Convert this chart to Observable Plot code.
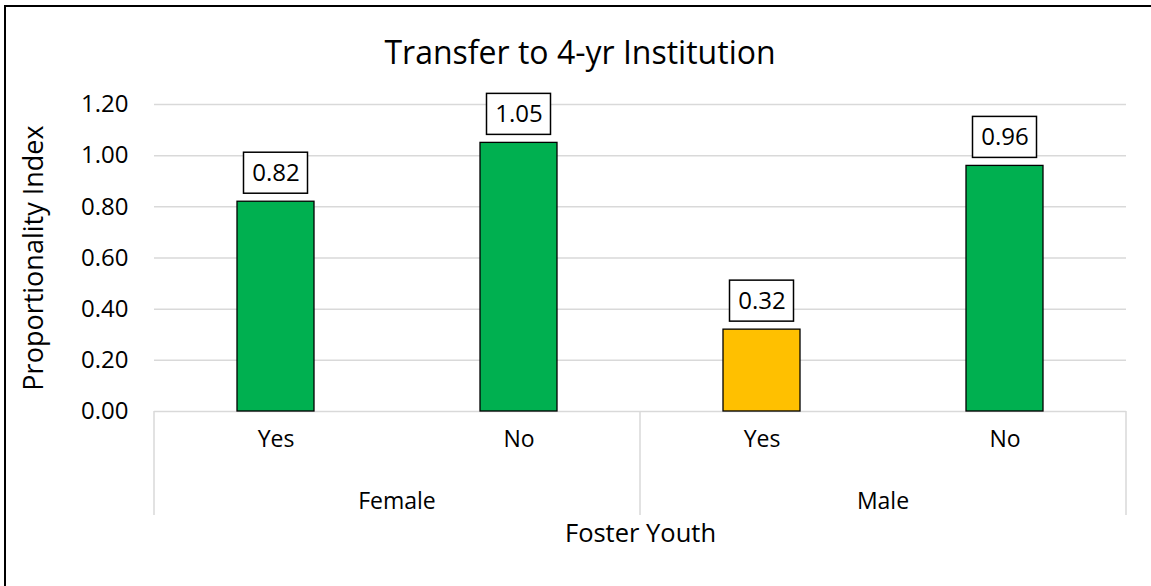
<!DOCTYPE html>
<html>
<head>
<meta charset="utf-8">
<script src="https://cdn.jsdelivr.net/npm/d3@7"></script>
<script src="https://cdn.jsdelivr.net/npm/@observablehq/plot@0.6"></script>
<style>
  html, body { margin: 0; padding: 0; background: #fff; overflow: hidden; }
  #frame { position: absolute; left: 4px; top: 5px; width: 1200px; height: 700px; border: 2px solid #000; box-sizing: border-box; }
  #title { position: absolute; left: 0; top: 35px; width: 1160px; height: 34px; line-height: 34px; text-align: center;
           font-family: "Open Sans", sans-serif; font-size: 32px; color: #000; }
  #chart { position: absolute; left: 0; top: 85px; }
</style>
</head>
<body>
<div id="frame"></div>
<div id="title"></div>
<div id="chart"></div>
<script>
// ---- data ----
const titleText = "Transfer to 4-yr Institution";
const yLabel = "Proportionality Index";
const xLabel = "Foster Youth";
const groups = ["Female", "Male"];
const fosterCats = ["Yes", "No"];
const femaleValues = [0.82, 1.05];
const maleValues = [0.32, 0.96];
const barFills = ["#00B050", "#00B050", "#FFC000", "#00B050"];
const yTicks = [0, 0.2, 0.4, 0.6, 0.8, 1.0, 1.2];

const seriesByGroup = [femaleValues, maleValues];
const rows = groups.flatMap((g, gi) => fosterCats.map((f, fi) => ({
  group: g, foster: f, key: g + "|" + f, value: seriesByGroup[gi][fi]
})));
rows.forEach((r, i) => r.fill = barFills[i]);
const keys = rows.map(r => r.key);

document.getElementById("title").textContent = titleText;

// separators + group labels drawn from the x band scale
function groupDecor(index, scales, values, dims) {
  const sx = scales.x;
  const bw = typeof sx.bandwidth === "function" ? sx.bandwidth() : scales.scales.x.bandwidth;
  const step = typeof sx.step === "function" ? sx.step() : scales.scales.x.step;
  const gap = (step - bw) / 2;
  const y0 = dims.height - dims.marginBottom;
  const g = d3.create("svg:g");
  const edges = [];
  groups.forEach((grp, i) => {
    const left = sx(grp + "|" + fosterCats[0]) - gap;
    const right = sx(grp + "|" + fosterCats[fosterCats.length - 1]) + bw + gap;
    if (i === 0) edges.push(left);
    edges.push(right);
    g.append("text")
      .attr("x", (left + right) / 2)
      .attr("y", y0 + 90)
      .attr("dy", "0.35em")
      .attr("text-anchor", "middle")
      .attr("font-size", 23)
      .attr("fill", "#000")
      .text(grp);
  });
  edges.forEach(x => {
    g.append("line")
      .attr("x1", x).attr("x2", x)
      .attr("y1", y0).attr("y2", y0 + 104)
      .attr("stroke", "#d9d9d9").attr("stroke-width", 1.5);
  });
  return g.node();
}

const chart = Plot.plot({
  width: 1151,
  height: 501,
  marginTop: 19,
  marginBottom: 175,
  marginLeft: 154,
  marginRight: 25,
  style: { fontFamily: "Open Sans, sans-serif", fontSize: "23px", color: "#000", background: "transparent", overflow: "visible" },
  x: { domain: keys, paddingInner: 0.6825, paddingOuter: 0.341, axis: null },
  y: { domain: [0, 1.2], axis: null },
  color: { type: "identity" },
  marks: [
    Plot.gridY(yTicks, { stroke: "#d9d9d9", strokeOpacity: 1, strokeWidth: 1.5 }),
    Plot.axisY(yTicks, { tickSize: 0, tickPadding: 26, tickFormat: d => d.toFixed(2), fontSize: 24, label: null, fill: "#000" }),
    Plot.barY(rows, { x: "key", y: "value", fill: "fill", stroke: "#000", strokeWidth: 1.3 }),
    Plot.barY(rows, { x: "key", y1: "value", y2: "value", insetTop: -49, insetBottom: 8, insetLeft: 6.5, insetRight: 6.5,
                      fill: "#fff", stroke: "#000", strokeWidth: 1.5 }),
    Plot.text(rows, { x: "key", y: "value", text: d => d.value.toFixed(2), dy: -28.5, fontSize: 24, fill: "#000" }),
    Plot.text(rows, { x: "key", text: "foster", frameAnchor: "bottom", dy: 35, fontSize: 23, fill: "#000" }),
    Plot.text([xLabel], { text: d => d, frameAnchor: "bottom", dy: 130, fontSize: 25.5, fill: "#000" }),
    Plot.text([yLabel], { text: d => d, frameAnchor: "left", textAnchor: "middle", dx: -120, rotate: -90, fontSize: 27, fill: "#000" }),
    groupDecor
  ]
});
document.getElementById("chart").appendChild(chart);
</script>
</body>
</html>
